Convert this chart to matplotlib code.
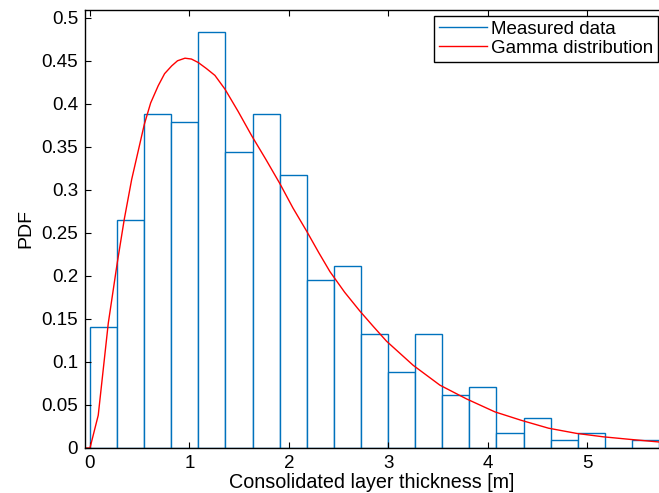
import numpy as np
import matplotlib.pyplot as plt
from matplotlib.lines import Line2D

plt.rcParams["font.family"] = ["Liberation Sans", "DejaVu Sans"]
plt.rcParams["font.size"] = 13.5

# histogram of measured thickness (bin edges in m, PDF heights)
bin_edges = [0.0, 0.272, 0.545, 0.817, 1.090, 1.362, 1.634, 1.907, 2.179, 2.452, 2.724,
             2.996, 3.269, 3.541, 3.814, 4.086, 4.358, 4.631, 4.903, 5.176, 5.448, 5.720]
pdf_measured = [0.141, 0.265, 0.388, 0.379, 0.484, 0.344, 0.388, 0.317, 0.195, 0.211, 0.132,
                0.088, 0.132, 0.062, 0.071, 0.018, 0.035, 0.009, 0.018, 0.0, 0.009]

# fitted gamma curve
gamma_x = [-0.05, 0.0, 0.083, 0.184, 0.274, 0.345, 0.419, 0.546, 0.61, 0.686, 0.75,
           0.821, 0.88, 0.955, 1.02, 1.088, 1.17, 1.256, 1.357, 1.49, 1.625, 1.77, 1.910,
           2.04, 2.178, 2.30, 2.412, 2.56, 2.714, 2.85, 2.982, 3.25, 3.518, 3.786, 4.07,
           4.34, 4.61, 4.89, 5.16, 5.43, 5.72]
gamma_y = [0.0, 0.0, 0.038, 0.145, 0.215, 0.266, 0.312, 0.376, 0.401, 0.421, 0.435,
           0.444, 0.450, 0.453, 0.452, 0.448, 0.441, 0.433, 0.417, 0.391, 0.363, 0.335, 0.307,
           0.279, 0.252, 0.227, 0.205, 0.181, 0.159, 0.141, 0.124, 0.096, 0.073, 0.057, 0.042,
           0.032, 0.023, 0.017, 0.013, 0.010, 0.007]

blue = "#0072BD"
red = "#FF0000"

fig = plt.figure(figsize=(6.59, 4.93), dpi=100)
ax = fig.add_axes([85 / 659, 45 / 493, 574 / 659, 438 / 493])

edges = np.array(bin_edges)
ax.bar(edges[:-1], pdf_measured, width=np.diff(edges), align="edge",
       facecolor="white", edgecolor=blue, linewidth=1.0)
ax.plot(gamma_x, gamma_y, color=red, linewidth=1.0)

ax.set_xlim(-0.05, 5.72)
ax.set_ylim(0, 0.509)
ax.set_xticks([0, 1, 2, 3, 4, 5])
ax.set_xticklabels(["0", "1", "2", "3", "4", "5"])
yt = [0, 0.05, 0.1, 0.15, 0.2, 0.25, 0.3, 0.35, 0.4, 0.45, 0.5]
ax.set_yticks(yt)
ax.set_yticklabels(["0", "0.05", "0.1", "0.15", "0.2", "0.25", "0.3", "0.35", "0.4", "0.45", "0.5"])
ax.tick_params(direction="in", length=4, width=0.8, top=True, right=False, pad=5)
for s in ["left", "bottom", "top"]:
    ax.spines[s].set_linewidth(1.0)
    ax.spines[s].set_color("black")
ax.spines["right"].set_visible(False)

ax.set_xlabel("Consolidated layer thickness [m]", fontsize=14.2, labelpad=1)
ax.set_ylabel("PDF", fontsize=14, labelpad=5)

handles = [Line2D([], [], color=blue, linewidth=1.0),
           Line2D([], [], color=red, linewidth=1.0)]
leg = fig.legend(handles, ["Measured data", "Gamma distribution"],
                 loc="upper right", bbox_to_anchor=(658 / 659, 477 / 493),
                 fancybox=False, framealpha=1, edgecolor="black", fontsize=13.5,
                 handlelength=2.6, handletextpad=0.2, borderpad=0.25,
                 labelspacing=0.1, borderaxespad=0)
leg.get_frame().set_linewidth(1.0)

fig.savefig("out.png", dpi=100)
